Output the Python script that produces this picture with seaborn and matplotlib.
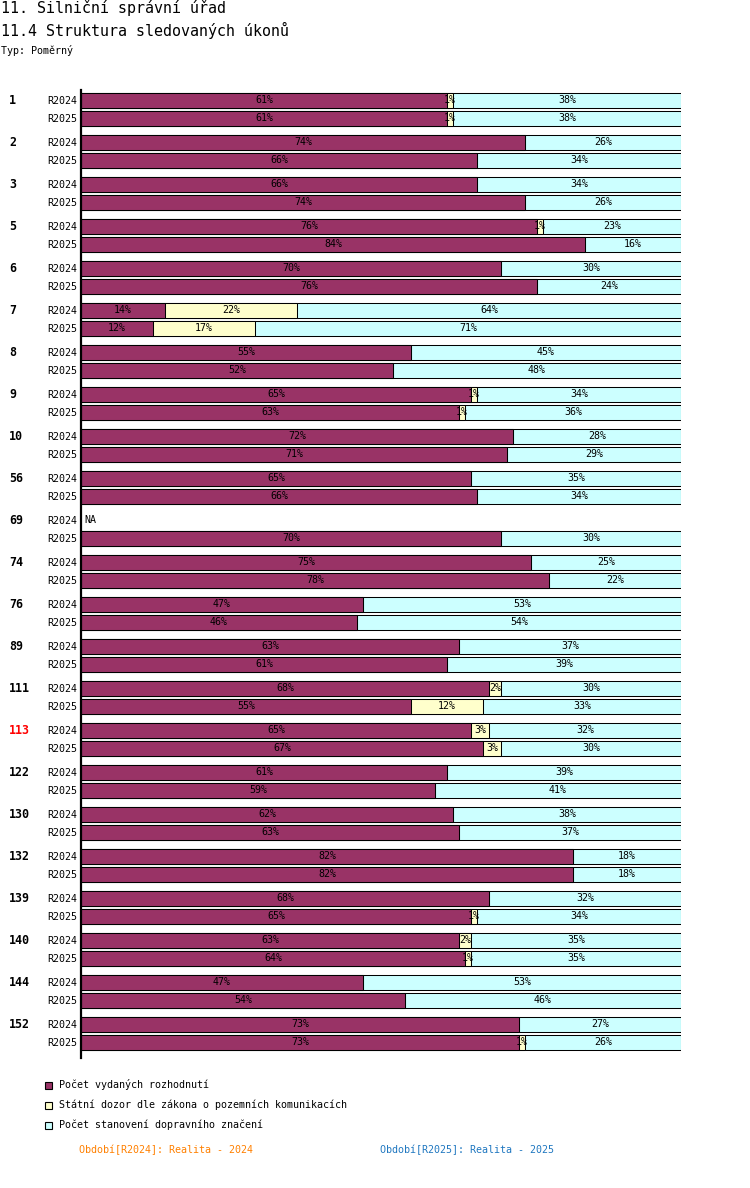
import matplotlib
matplotlib.use("Agg")
import matplotlib.pyplot as plt
from matplotlib.patches import Rectangle
from matplotlib.transforms import blended_transform_factory
import seaborn as sns
import pandas as pd
import numpy as np

# data (percent shares)
groups = ["1", "2", "3", "5", "6", "7", "8", "9", "10", "56", "69", "74",
          "76", "89", "111", "113", "122", "130", "132", "139", "140", "144", "152"]
periods = ["R2024", "R2025"]
highlight = "113"

rozhodnuti_2024 = [61, 74, 66, 76, 70, 14, 55, 65, 72, 65, np.nan, 75, 47, 63, 68, 65, 61, 62, 82, 68, 63, 47, 73]
dozor_2024 = [1, 0, 0, 1, 0, 22, 0, 1, 0, 0, np.nan, 0, 0, 0, 2, 3, 0, 0, 0, 0, 2, 0, 0]
znaceni_2024 = [38, 26, 34, 23, 30, 64, 45, 34, 28, 35, np.nan, 25, 53, 37, 30, 32, 39, 38, 18, 32, 35, 53, 27]

rozhodnuti_2025 = [61, 66, 74, 84, 76, 12, 52, 63, 71, 66, 70, 78, 46, 61, 55, 67, 59, 63, 82, 65, 64, 54, 73]
dozor_2025 = [1, 0, 0, 0, 0, 17, 0, 1, 0, 0, 0, 0, 0, 0, 12, 3, 0, 0, 0, 1, 1, 0, 1]
znaceni_2025 = [38, 34, 26, 16, 24, 71, 48, 36, 29, 34, 30, 22, 54, 39, 33, 30, 41, 37, 18, 34, 35, 46, 26]

series = ["Počet vydaných rozhodnutí",
          "Státní dozor dle zákona o pozemních komunikacích",
          "Počet stanovení dopravního značení"]
colors = ["#993366", "#FFFFCC", "#CCFFFF"]

footer = ["Období[R2024]: Realita - 2024", "Období[R2025]: Realita - 2025"]
footer_colors = ["#FF8000", "#1F77C0"]

sns.set_style("white")
plt.rcParams["font.family"] = ["DejaVu Sans Mono", "DejaVu Sans"]
plt.rcParams["text.color"] = "black"
plt.rcParams["ytick.color"] = "black"
plt.rcParams["axes.edgecolor"] = "black"

# long table, one row per group/period
rows = []
vals = {"R2024": (rozhodnuti_2024, dozor_2024, znaceni_2024),
        "R2025": (rozhodnuti_2025, dozor_2025, znaceni_2025)}
for gi, g in enumerate(groups):
    for pi, p in enumerate(periods):
        a, b, c = vals[p]
        rows.append({"group": g, "period": p, "pos": gi * 42 + pi * 18 + 10,
                     "s1": a[gi], "s2": b[gi], "s3": c[gi]})
df = pd.DataFrame(rows)
df["c1"] = df.s1
df["c2"] = df.s1 + df.s2
df["c3"] = df.s1 + df.s2 + df.s3
bars = df.dropna()

W, H = 750, 1188
fig = plt.figure(figsize=(W / 100, H / 100), dpi=100)
ax = fig.add_axes([81 / W, 1 - 1058 / H, 600 / W, 968 / H])

bw = 15 / 18
for col, color in zip(["c3", "c2", "c1"], colors[::-1]):
    sns.barplot(data=bars, x=col, y="pos", orient="y", native_scale=True,
                color=color, saturation=1, edgecolor="black", linewidth=0.75,
                width=bw, errorbar=None, ax=ax)

# percentage labels, clipped to their segment
for _, r in bars.iterrows():
    left = 0
    for s in ["s1", "s2", "s3"]:
        v = r[s]
        if v > 0:
            clip = Rectangle((left, r.pos - 8), v, 16, transform=ax.transData)
            t = ax.text(left + v / 2, r.pos, f"{v:.0f}%", ha="center", va="center",
                        fontsize=7.2, color="black")
            t.set_clip_path(clip)
        left += v

for _, r in df[df.s1.isna()].iterrows():
    ax.text(0.6, r.pos, "NA", ha="left", va="center", fontsize=7.2, color="black")

ax.set_xlim(0, 100)
ax.set_ylim(968, 0)
ax.set_xlabel("")
ax.set_ylabel("")
ax.set_xticks([])
ax.set_yticks(df.pos)
ax.set_yticklabels(df.period, fontsize=7.2)
ax.tick_params(axis="y", which="major", length=0, pad=3)
ax.set_yticks([0], minor=True)
ax.tick_params(axis="y", which="minor", length=4.5, width=0.8)
for sp in ["top", "right", "bottom"]:
    ax.spines[sp].set_visible(False)
ax.spines["left"].set_linewidth(1.6)

# group labels
tr = blended_transform_factory(fig.transFigure, ax.transData)
for _, r in df[df.period == "R2024"].iterrows():
    ax.text(9 / W, r.pos, r.group, transform=tr, ha="left", va="center",
            fontsize=8.4, fontweight="bold",
            color="#FF0000" if r.group == highlight else "black")

# titles
fig.text(1 / W, 1 - 8 / H, "11. Silniční správní úřad", fontsize=10.8, va="center", ha="left")
fig.text(1 / W, 1 - 30 / H, "11.4 Struktura sledovaných úkonů", fontsize=10.8, va="center", ha="left")
fig.text(1 / W, 1 - 50 / H, "Typ: Poměrný", fontsize=7.2, va="center", ha="left")

# legend
for i, (name, color) in enumerate(zip(series, colors)):
    yc = 1085 + i * 20
    fig.patches.append(Rectangle((45 / W, 1 - (yc + 3.5) / H), 7 / W, 7 / H,
                                 facecolor=color, edgecolor="black", linewidth=0.8,
                                 transform=fig.transFigure))
    fig.text(59 / W, 1 - yc / H, name, fontsize=7.2, va="center", ha="left")

for x, txt, c in zip([79, 380], footer, footer_colors):
    fig.text(x / W, 1 - 1150 / H, txt, fontsize=7.2, va="center", ha="left", color=c)

fig.savefig("out.png", dpi=100)
